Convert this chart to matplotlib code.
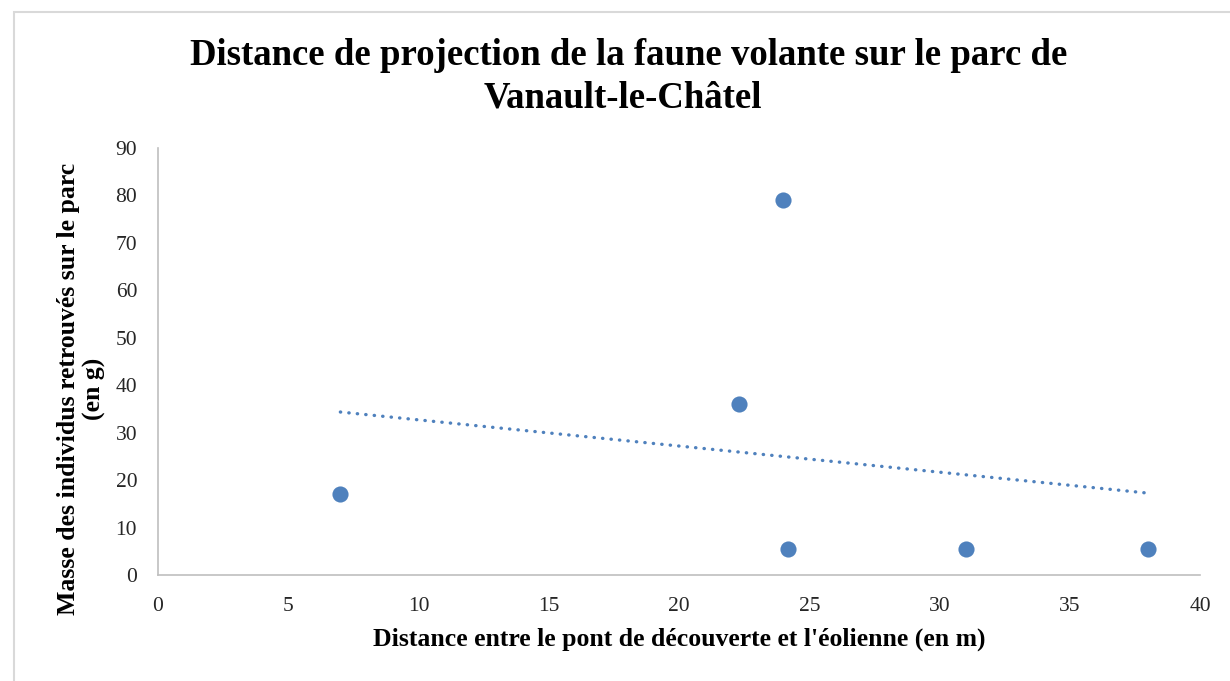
import numpy as np
import matplotlib
matplotlib.use("Agg")
import matplotlib.pyplot as plt
from matplotlib.patches import Rectangle

# données
distance_m = [7, 22.3, 24, 24.2, 31, 38]
masse_g = [17, 36, 79, 5.5, 5.5, 5.5]
x_ticks = [0, 5, 10, 15, 20, 25, 30, 35, 40]
y_ticks = [0, 10, 20, 30, 40, 50, 60, 70, 80, 90]

titre_l1 = "Distance de projection de la faune volante sur le parc de"
titre_l2 = "Vanault-le-Châtel"
label_x = "Distance entre le pont de découverte et l'éolienne (en m)"
label_y = "Masse des individus retrouvés sur le parc\n(en g)"

blue = "#4F81BD"
plt.rcParams['font.family'] = ['Liberation Serif', 'DejaVu Serif']

W, H = 1230, 681
fig = plt.figure(figsize=(W / 100, H / 100), dpi=100)
ax = fig.add_axes([158 / W, 1 - 575 / H, (1200 - 158) / W, (575 - 148) / H])

# cadre extérieur gris clair (seuls les bords gauche et haut sont visibles)
fig.patches.append(Rectangle((14 / W, -0.05), 1.0, 1 - 12 / H + 0.05,
                             transform=fig.transFigure, fill=False,
                             edgecolor="#D9D9D9", linewidth=1.5))

ax.scatter(distance_m, masse_g, s=135, color=blue, zorder=3, linewidths=0)

# courbe de tendance linéaire
a, b = np.polyfit(distance_m, masse_g, 1)
xt = np.array([min(distance_m), max(distance_m)])
ax.plot(xt, a * xt + b, color=blue, linewidth=2.4, linestyle=(0, (0.1, 2.45)),
        dash_capstyle="round", zorder=2)

ax.set_xlim(0, 40)
ax.set_ylim(0, 90)
ax.set_xticks(x_ticks)
ax.set_yticks(y_ticks)
ax.tick_params(length=0, labelsize=15.5, colors="#262626")
ax.tick_params(axis="x", pad=16)
ax.tick_params(axis="y", pad=15)
for s in ["top", "right"]:
    ax.spines[s].set_visible(False)
for s in ["left", "bottom"]:
    ax.spines[s].set_color("#BFBFBF")
    ax.spines[s].set_linewidth(1.2)

ax.set_xlabel(label_x, fontsize=18.5, fontweight="bold", labelpad=8)
ax.set_ylabel(label_y, fontsize=18.5, fontweight="bold", linespacing=1.15)
ax.yaxis.set_label_coords(-0.05, 0.435)

fig.text(629 / W, 1 - 65 / H, titre_l1, ha="center", va="baseline",
         fontsize=26.5, fontweight="bold")
fig.text(623 / W, 1 - 107 / H, titre_l2, ha="center", va="baseline",
         fontsize=26.5, fontweight="bold")

fig.savefig("out.png", dpi=100)
